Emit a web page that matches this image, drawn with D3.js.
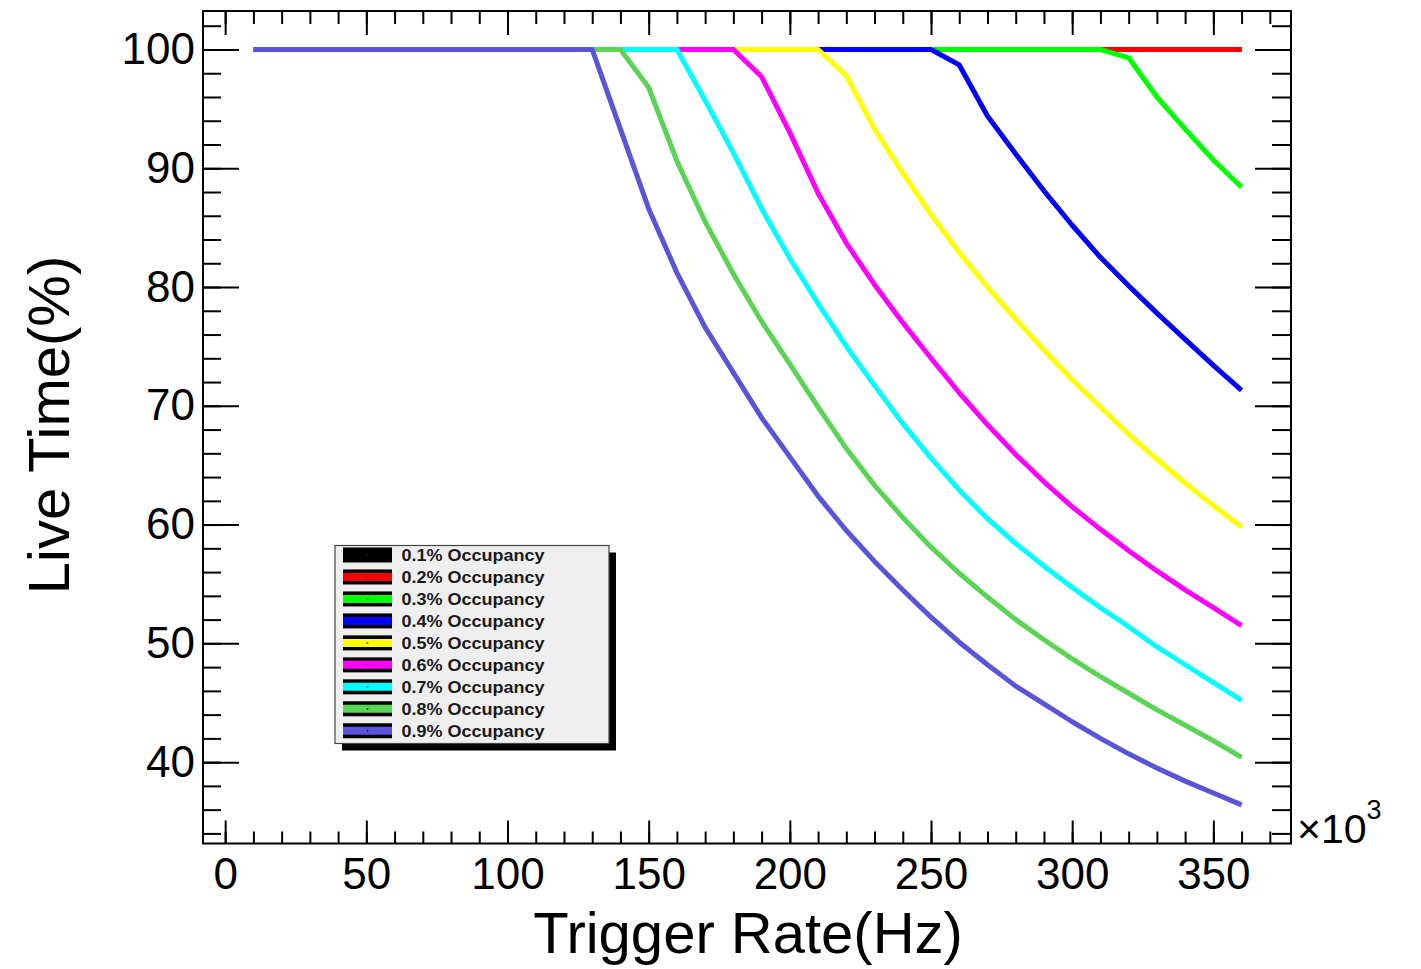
<!DOCTYPE html>
<html>
<head>
<meta charset="utf-8">
<script src="https://cdn.jsdelivr.net/npm/d3@7"></script>
<style>
  html, body { margin: 0; padding: 0; background: #ffffff; }
  svg { display: block; font-family: "Liberation Sans", Arial, Helvetica, sans-serif; }
</style>
</head>
<body>
<svg id="chart" width="1421" height="969"></svg>
<script>
// ---------------- DATA ----------------
const rates = [10,20,30,40,50,60,70,80,90,100,110,120,130,140,150,160,170,180,190,200,210,220,230,240,250,260,270,280,290,300,310,320,330,340,350,360]; // kHz

const occ01 = [100,100,100,100,100,100,100,100,100,100,100,100,100,100,100,100,100,100,100,100,100,100,100,100,100,100,100,100,100,100,100,100,100,100,100,100];
const occ02 = [100,100,100,100,100,100,100,100,100,100,100,100,100,100,100,100,100,100,100,100,100,100,100,100,100,100,100,100,100,100,100,100,100,100,100,100];
const occ03 = [100,100,100,100,100,100,100,100,100,100,100,100,100,100,100,100,100,100,100,100,100,100,100,100,100,100,100,100,100,100,100,99.3,96.0,93.3,90.7,88.4];
const occ04 = [100,100,100,100,100,100,100,100,100,100,100,100,100,100,100,100,100,100,100,100,100,100,100,100,100,98.7,94.4,91.2,88.1,85.2,82.5,80.1,77.8,75.6,73.4,71.3];
const occ05 = [100,100,100,100,100,100,100,100,100,100,100,100,100,100,100,100,100,100,100,100,100,97.8,93.3,89.6,86.1,82.9,80.0,77.3,74.7,72.2,69.9,67.6,65.5,63.5,61.6,59.8];
const occ06 = [100,100,100,100,100,100,100,100,100,100,100,100,100,100,100,100,100,100,97.7,93.0,87.9,83.7,80.2,77.0,74.0,71.1,68.4,65.9,63.6,61.5,59.6,57.8,56.1,54.5,53.0,51.5];
const occ07 = [100,100,100,100,100,100,100,100,100,100,100,100,100,100,100,100,95.7,91.3,86.6,82.4,78.6,75.0,71.7,68.5,65.6,62.9,60.5,58.4,56.5,54.7,53.0,51.4,49.7,48.2,46.7,45.2];
const occ08 = [100,100,100,100,100,100,100,100,100,100,100,100,100,100,96.8,90.6,85.5,81.1,77.1,73.5,69.9,66.4,63.3,60.6,58.1,55.9,53.9,52.0,50.3,48.7,47.2,45.8,44.4,43.1,41.8,40.4];
const occ09 = [100,100,100,100,100,100,100,100,100,100,100,100,100,93.3,86.6,81.2,76.6,72.8,69.0,65.7,62.4,59.5,56.9,54.5,52.2,50.1,48.2,46.4,44.9,43.4,42.0,40.7,39.5,38.4,37.4,36.4];

const seriesNames = ["0.1% Occupancy","0.2% Occupancy","0.3% Occupancy","0.4% Occupancy","0.5% Occupancy","0.6% Occupancy","0.7% Occupancy","0.8% Occupancy","0.9% Occupancy"];
const seriesValues = [occ01, occ02, occ03, occ04, occ05, occ06, occ07, occ08, occ09];
const seriesColors = ["#000000","#ff0000","#00ff00","#0000ff","#ffff00","#ff00ff","#00ffff","#59d454","#5954d9"];

const xMajorTicks = [0,50,100,150,200,250,300,350];
const xMinorTicks = [0,10,20,30,40,50,60,70,80,90,100,110,120,130,140,150,160,170,180,190,200,210,220,230,240,250,260,270,280,290,300,310,320,330,340,350,360,370];
const yMajorTicks = [40,50,60,70,80,90,100];
const yMinorTicks = [34,36,38,40,42,44,46,48,50,52,54,56,58,60,62,64,66,68,70,72,74,76,78,80,82,84,86,88,90,92,94,96,98,100,102];

const xTitle = "Trigger Rate(Hz)";
const yTitle = "Live Time(%)";

// ---------------- LAYOUT ----------------
const frame = { left: 203, right: 1291, top: 11, bottom: 843.5 };
const svg = d3.select("#chart");

const x = d3.scaleLinear().domain([-7.85, 377.5]).range([frame.left, frame.right]);
const y = d3.scaleLinear().domain([33.15, 103.24]).range([frame.bottom, frame.top]);

// ---------------- SERIES ----------------
const line = d3.line()
  .x((d, i) => x(rates[i]))
  .y(d => y(d));

svg.append("g").selectAll("path")
  .data(seriesValues)
  .join("path")
  .attr("d", d => line(d))
  .attr("fill", "none")
  .attr("stroke", (d, i) => seriesColors[i])
  .attr("stroke-width", 5)
  .attr("stroke-linejoin", "round");

// ---------------- AXES ----------------
function styleAxis(g) {
  g.select(".domain").remove();
  g.selectAll(".tick line").attr("stroke", "#000").attr("stroke-width", 2);
}

// bottom
svg.append("g").attr("transform", `translate(0,${frame.bottom})`)
  .call(d3.axisBottom(x).tickValues(xMinorTicks).tickSize(-12).tickFormat(""))
  .call(styleAxis);
svg.append("g").attr("transform", `translate(0,${frame.bottom})`)
  .call(d3.axisBottom(x).tickValues(xMajorTicks).tickSize(-23).tickPadding(14).tickFormat(d3.format("d")))
  .call(styleAxis)
  .call(g => g.selectAll("text").attr("font-size", 44).attr("fill", "#000").attr("font-family", "Liberation Sans, Arial, sans-serif"));
// top
svg.append("g").attr("transform", `translate(0,${frame.top})`)
  .call(d3.axisTop(x).tickValues(xMinorTicks).tickSize(-13).tickFormat(""))
  .call(styleAxis);
svg.append("g").attr("transform", `translate(0,${frame.top})`)
  .call(d3.axisTop(x).tickValues(xMajorTicks).tickSize(-24).tickFormat(""))
  .call(styleAxis);
// left
svg.append("g").attr("transform", `translate(${frame.left},0)`)
  .call(d3.axisLeft(y).tickValues(yMinorTicks).tickSize(-18).tickFormat(""))
  .call(styleAxis);
svg.append("g").attr("transform", `translate(${frame.left},0)`)
  .call(d3.axisLeft(y).tickValues(yMajorTicks).tickSize(-36).tickPadding(8).tickFormat(d3.format("d")))
  .call(styleAxis)
  .call(g => g.selectAll("text").attr("font-size", 44).attr("fill", "#000").attr("font-family", "Liberation Sans, Arial, sans-serif"));
// right
svg.append("g").attr("transform", `translate(${frame.right},0)`)
  .call(d3.axisRight(y).tickValues(yMinorTicks).tickSize(-19).tickFormat(""))
  .call(styleAxis);
svg.append("g").attr("transform", `translate(${frame.right},0)`)
  .call(d3.axisRight(y).tickValues(yMajorTicks).tickSize(-36).tickFormat(""))
  .call(styleAxis);

// frame
svg.append("rect")
  .attr("x", frame.left).attr("y", frame.top)
  .attr("width", frame.right - frame.left).attr("height", frame.bottom - frame.top)
  .attr("fill", "none").attr("stroke", "#000").attr("stroke-width", 2);

// x10^3 multiplier
const mult = svg.append("text").attr("x", 1297).attr("y", 843).attr("font-size", 41).attr("fill", "#000");
mult.append("tspan").text("\u00d710");
mult.append("tspan").attr("dy", -24).attr("font-size", 27).text("3");

// titles
svg.append("text")
  .attr("x", 748).attr("y", 953)
  .attr("text-anchor", "middle")
  .attr("font-size", 58)
  .attr("fill", "#000")
  .text(xTitle);

svg.append("text")
  .attr("transform", "translate(69,425) rotate(-90)")
  .attr("text-anchor", "middle")
  .attr("font-size", 58)
  .attr("fill", "#000")
  .text(yTitle);

// ---------------- LEGEND ----------------
const lg = { x: 335, y: 545.5, w: 274, h: 198, shadow: 7, row0: 555, rowStep: 21.97 };
const legend = svg.append("g");
legend.append("rect")
  .attr("x", lg.x + lg.shadow).attr("y", lg.y + lg.shadow)
  .attr("width", lg.w).attr("height", lg.h)
  .attr("fill", "#000");
legend.append("rect")
  .attr("x", lg.x).attr("y", lg.y)
  .attr("width", lg.w).attr("height", lg.h)
  .attr("fill", "#efefef").attr("stroke", "#444").attr("stroke-width", 1.2);

const entries = legend.selectAll("g.entry")
  .data(seriesNames)
  .join("g")
  .attr("class", "entry")
  .attr("transform", (d, i) => `translate(0,${lg.row0 + i * lg.rowStep})`);

entries.append("rect")
  .attr("x", 343).attr("y", -7.5).attr("width", 49).attr("height", 15)
  .attr("fill", "#000");
entries.append("line")
  .attr("x1", 343).attr("x2", 392).attr("y1", 0).attr("y2", 0)
  .attr("stroke", (d, i) => seriesColors[i]).attr("stroke-width", 8);
entries.append("circle")
  .attr("cx", 367.5).attr("cy", 0).attr("r", 0.9)
  .attr("fill", "#222");
entries.append("text")
  .attr("x", 401.5).attr("y", 6)
  .attr("font-size", 17)
  .attr("font-weight", "bold")
  .attr("fill", "#1a1a1a")
  .attr("textLength", 143)
  .attr("lengthAdjust", "spacingAndGlyphs")
  .text(d => d);
</script>
</body>
</html>
